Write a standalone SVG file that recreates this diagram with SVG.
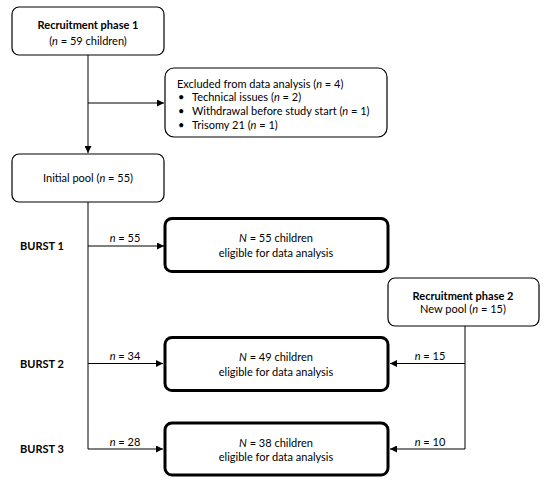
<svg xmlns="http://www.w3.org/2000/svg" width="550" height="485" viewBox="0 0 550 485">
<style>
text{font-family:Lato,"Open Sans","Liberation Sans",sans-serif;font-size:11px;fill:#000}
.b{font-weight:bold}
.c{text-anchor:middle}
.box{fill:#fff;stroke:#000;stroke-width:1.2}
.tbox{fill:#fff;stroke:#000;stroke-width:3}
.ln{fill:none;stroke:#000;stroke-width:1}
</style>
<defs>
<marker id="ah" viewBox="0 0 10 10" refX="10" refY="5" markerWidth="7" markerHeight="7" markerUnits="userSpaceOnUse" orient="auto">
<path d="M0,0 L10,5 L0,10 z" fill="#000"/>
</marker>
</defs>
<rect width="550" height="485" fill="#fff"/>
<g id="connectors">
<path class="ln" d="M88,55 V153" marker-end="url(#ah)"/>
<path class="ln" d="M88,103 H164" marker-end="url(#ah)"/>
<path class="ln" d="M88,202 V449 H163" marker-end="url(#ah)"/>
<path class="ln" d="M88,246 H164" marker-end="url(#ah)"/>
<path class="ln" d="M88,363.5 H163" marker-end="url(#ah)"/>
<path class="ln" d="M465,326 V449 H390" marker-end="url(#ah)"/>
<path class="ln" d="M465,363.5 H390" marker-end="url(#ah)"/>
<text class="c" x="125" y="242"><tspan font-style="italic">n</tspan> = 55</text>
<text class="c" x="125" y="360"><tspan font-style="italic">n</tspan> = 34</text>
<text class="c" x="125" y="445.5"><tspan font-style="italic">n</tspan> = 28</text>
<text class="c" x="430" y="360"><tspan font-style="italic">n</tspan> = 15</text>
<text class="c" x="430" y="445.5"><tspan font-style="italic">n</tspan> = 10</text>
</g>
<g id="labels">
<text class="b" x="20" y="250">BURST 1</text>
<text class="b" x="20" y="368">BURST 2</text>
<text class="b" x="20" y="453">BURST 3</text>
</g>
<g id="recruit1">
<rect class="box" x="12" y="7" width="152" height="48" rx="7"/>
<text class="b c" x="88" y="29">Recruitment phase 1</text>
<text class="c" x="88" y="45">(<tspan font-style="italic">n</tspan> = 59 children)</text>
</g>
<g id="excluded">
<rect class="box" x="165" y="68" width="222" height="69" rx="9"/>
<text x="177" y="88">Excluded from data analysis (<tspan font-style="italic">n</tspan> = 4)</text>
<text x="178" y="101">•</text><text x="192" y="101">Technical issues (<tspan font-style="italic">n</tspan> = 2)</text>
<text x="178" y="115">•</text><text x="192" y="115">Withdrawal before study start (<tspan font-style="italic">n</tspan> = 1)</text>
<text x="178" y="129">•</text><text x="192" y="129">Trisomy 21 (<tspan font-style="italic">n</tspan> = 1)</text>
</g>
<g id="initial">
<rect class="box" x="12" y="154" width="152" height="48" rx="7"/>
<text class="c" x="88" y="182">Initial pool (<tspan font-style="italic">n</tspan> = 55)</text>
</g>
<g id="burst1">
<rect class="tbox" x="165" y="218.5" width="223" height="53" rx="7"/>
<text class="c" x="276" y="242"><tspan font-style="italic">N</tspan> = 55 children</text>
<text class="c" x="276" y="257">eligible for data analysis</text>
</g>
<g id="recruit2">
<rect class="box" x="388" y="278" width="151" height="48" rx="7"/>
<text class="b c" x="463" y="300">Recruitment phase 2</text>
<text class="c" x="463" y="313">New pool (<tspan font-style="italic">n</tspan> = 15)</text>
</g>
<g id="burst2">
<rect class="tbox" x="165" y="337.5" width="223" height="53" rx="7"/>
<text class="c" x="276" y="360.5"><tspan font-style="italic">N</tspan> = 49 children</text>
<text class="c" x="276" y="375.5">eligible for data analysis</text>
</g>
<g id="burst3">
<rect class="tbox" x="165" y="423" width="223" height="52" rx="7"/>
<text class="c" x="276" y="446.5"><tspan font-style="italic">N</tspan> = 38 children</text>
<text class="c" x="276" y="461">eligible for data analysis</text>
</g>
</svg>
